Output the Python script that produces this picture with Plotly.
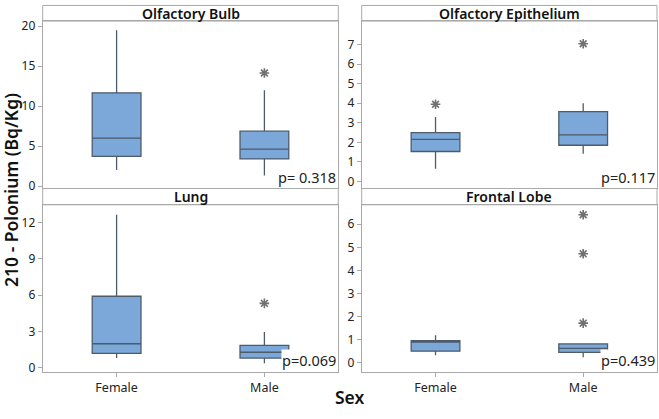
import plotly.graph_objects as go

# ---- data (low whisker, Q1, median, Q3, high whisker) ----
categories = ["Female", "Male"]
panel_titles = ["Olfactory Bulb", "Olfactory Epithelium", "Lung", "Frontal Lobe"]
p_values = ["p= 0.318", "p=0.117", "p=0.069", "p=0.439"]

bulb_female = [2.04, 3.74, 6.02, 11.67, 19.5]
bulb_male = [1.34, 3.41, 4.63, 6.88, 12.0]
bulb_outliers_male = [14.15]

epi_female = [0.65, 1.53, 2.15, 2.5, 3.3]
epi_male = [1.42, 1.85, 2.38, 3.57, 4.0]
epi_outliers_female = [3.95]
epi_outliers_male = [7.05]

lung_female = [0.81, 1.19, 1.99, 5.92, 12.65]
lung_male = [0.38, 0.81, 1.29, 1.86, 2.96]
lung_outliers_male = [5.33]

frontal_female = [0.33, 0.51, 0.9, 0.96, 1.2]
frontal_male = [0.25, 0.46, 0.63, 0.82, 0.82]
frontal_outliers_male = [6.41, 4.72, 1.72]

y_ticks = [[0, 5, 10, 15, 20], [0, 1, 2, 3, 4, 5, 6, 7], [0, 3, 6, 9, 12], [0, 1, 2, 3, 4, 5, 6]]
y_ranges = [[-0.28, 20.63], [-0.365, 8.21], [-0.32, 13.48], [-0.38, 6.84]]

# ---- layout geometry (pixels) ----
W, H = 659, 419
col_px = [(42.7, 338.3), (361.7, 657.0)]
row_px = [(17.5, 189.0), (205.7, 376.7)]
hdr_px = [(1.5, 17.5), (189.0, 205.7)]

def px_x(x):
    return x / W

def px_y(y):
    return 1 - y / H

FILL = "#7BA7D9"
LINE = "#4E5B69"
OUT = "#707070"
BORDER = "#A9A9A9"
FONT = "Noto Sans"

fig = go.Figure()
boxes = [(bulb_female, bulb_male), (epi_female, epi_male), (lung_female, lung_male), (frontal_female, frontal_male)]
outliers = [([], bulb_outliers_male), (epi_outliers_female, epi_outliers_male), ([], lung_outliers_male), ([], frontal_outliers_male)]

shapes = []
annotations = []
for i in range(4):
    r, c = divmod(i, 2)
    ax = "" if i == 0 else str(i + 1)
    xref, yref = "x" + ax, "y" + ax
    for j, cat in enumerate(categories):
        s = boxes[i][j]
        fig.add_trace(go.Box(
            x=[cat], lowerfence=[s[0]], q1=[s[1]], median=[s[2]], q3=[s[3]], upperfence=[s[4]],
            width=0.33, whiskerwidth=0, fillcolor=FILL, line=dict(color=LINE, width=1.3),
            xaxis=xref, yaxis=yref, showlegend=False, hoverinfo="skip"))
        o = outliers[i][j]
        if o:
            fig.add_trace(go.Scatter(
                x=[cat] * len(o), y=o, mode="markers",
                marker=dict(symbol="asterisk-open", size=8, color=OUT, line=dict(color=OUT, width=1.6)),
                xaxis=xref, yaxis=yref, showlegend=False, hoverinfo="skip"))
    xd = [px_x(col_px[c][0]), px_x(col_px[c][1])]
    yd = [px_y(row_px[r][1]), px_y(row_px[r][0])]
    fig.layout["xaxis" + ax] = dict(
        domain=xd, anchor=yref, type="category", categoryorder="array", categoryarray=categories,
        range=[-0.5, 1.5], showgrid=False, zeroline=False, showline=True, mirror=True,
        linecolor=BORDER, linewidth=1, ticks="outside" if r == 1 else "", ticklen=4,
        tickcolor=BORDER, showticklabels=(r == 1),
        tickfont=dict(family=FONT, size=12.5, color="#222222"), fixedrange=True)
    fig.layout["yaxis" + ax] = dict(
        domain=yd, anchor=xref, range=y_ranges[i], tickvals=y_ticks[i], showgrid=False,
        zeroline=False, showline=True, mirror=True, linecolor=BORDER, linewidth=1,
        ticks="outside", ticklen=4, tickcolor=BORDER,
        tickfont=dict(family=FONT, size=12, color="#222222"), fixedrange=True)
    # header strip
    shapes.append(dict(type="rect", xref="paper", yref="paper",
                       x0=xd[0], x1=xd[1], y0=px_y(hdr_px[r][1]), y1=px_y(hdr_px[r][0]),
                       line=dict(color=BORDER, width=1), fillcolor="white", layer="below"))
    annotations.append(dict(text=panel_titles[i], xref="paper", yref="paper",
                            x=(xd[0] + xd[1]) / 2, y=px_y((hdr_px[r][0] + hdr_px[r][1]) / 2),
                            xanchor="center", yanchor="middle", showarrow=False,
                            font=dict(family=FONT, size=14, color="#111111", weight=600)))
    annotations.append(dict(text=p_values[i], xref="paper", yref="paper",
                            x=xd[1] - 1 / W, y=yd[0] + 1 / H, xanchor="right", yanchor="bottom",
                            showarrow=False, bgcolor="white", borderpad=0,
                            font=dict(family=FONT, size=14.5, color="#222222")))

annotations.append(dict(text="210 - Polonium (Bq/Kg)", xref="paper", yref="paper",
                        x=px_x(11.5), y=px_y(191), textangle=-90, xanchor="center", yanchor="middle",
                        showarrow=False, font=dict(family=FONT, size=17.5, color="#111111", weight=600)))
annotations.append(dict(text="Sex", xref="paper", yref="paper",
                        x=px_x(350), y=px_y(403), xanchor="center", yanchor="middle",
                        showarrow=False, font=dict(family=FONT, size=17.5, color="#111111", weight=600)))

fig.update_layout(width=W, height=H, margin=dict(l=0, r=0, t=0, b=0),
                  paper_bgcolor="white", plot_bgcolor="white",
                  shapes=shapes, annotations=annotations, showlegend=False)

fig.write_html("out.html", config={"displayModeBar": False},
               post_script="document.body.style.margin='0';document.body.style.overflow='hidden';")
